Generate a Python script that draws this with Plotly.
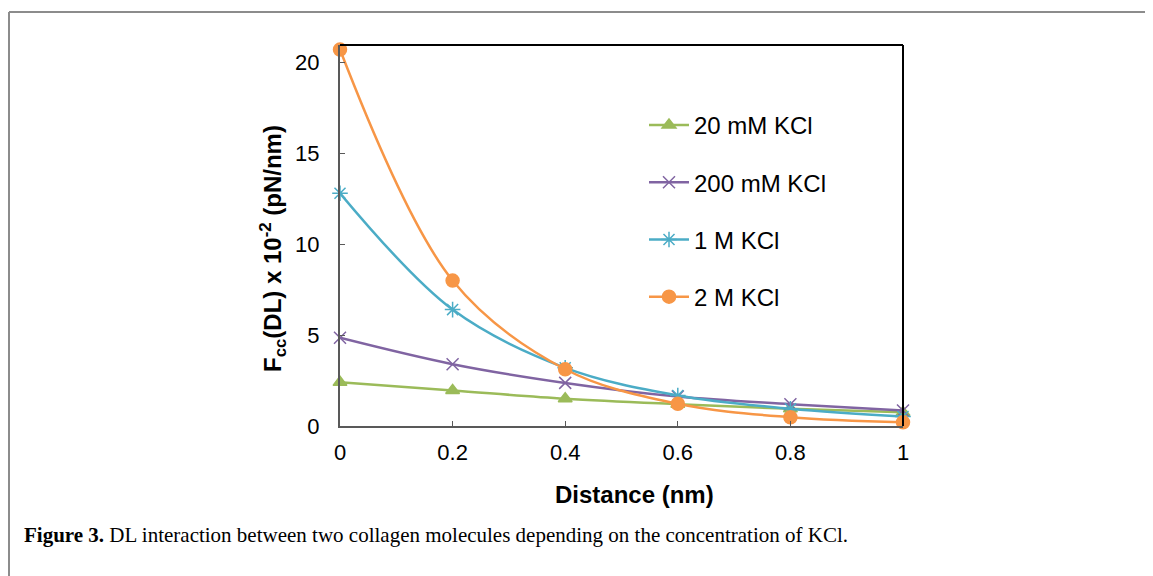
import plotly.graph_objects as go

distance = [0, 0.2, 0.4, 0.6, 0.8, 1.0]
kcl_20mM = [2.4, 1.95, 1.5, 1.2, 0.95, 0.75]
kcl_200mM = [4.85, 3.4, 2.37, 1.62, 1.2, 0.85]
kcl_1M = [12.8, 6.4, 3.2, 1.68, 0.95, 0.52]
kcl_2M = [20.7, 8.0, 3.12, 1.22, 0.48, 0.2]

series = [
    ("20 mM KCl", kcl_20mM, "#9BBB59", "triangle-up", 12),
    ("200 mM KCl", kcl_200mM, "#8064A2", "x-thin-open", 12),
    ("1 M KCl", kcl_1M, "#4BACC6", "asterisk-open", 13),
    ("2 M KCl", kcl_2M, "#F79646", "circle", 13),
]

OFF = 8  # default page body margin
W, H = 1153 - OFF, 576 - OFF
L, R, T, B = 340 - OFF, 903 - OFF, 45 - OFF, 426 - OFF

fig = go.Figure()
for i, (name, vals, col, sym, sz) in enumerate(series):
    fig.add_trace(go.Scatter(
        x=distance, y=vals, name=name, mode="lines+markers",
        line=dict(color=col, width=2.5, shape="spline", smoothing=1.0),
        marker=dict(symbol=sym, size=sz, color=col, line=dict(color=col, width=1.5)),
        legendgroup=f"g{i}", cliponaxis=False,
    ))

def px_x(p):
    return (p - OFF - L) / (R - L)

def px_y(p):
    return (B - (p - OFF)) / (B - T)

shapes = [
    dict(type="line", xref="paper", yref="paper", x0=px_x(9), x1=px_x(1170), y0=px_y(12), y1=px_y(12),
         line=dict(color="#8c8c8c", width=2)),
    dict(type="line", xref="paper", yref="paper", x0=px_x(9), x1=px_x(9), y0=px_y(12), y1=px_y(600),
         line=dict(color="#8c8c8c", width=2)),
    dict(type="line", xref="paper", yref="paper", x0=0, x1=1, y0=1, y1=1, line=dict(color="#000000", width=2)),
    dict(type="line", xref="paper", yref="paper", x0=1, x1=1, y0=0, y1=1, line=dict(color="#000000", width=2)),
]

fig.update_layout(
    width=W, height=H,
    margin=dict(l=L, r=W - R, t=T, b=H - B),
    paper_bgcolor="white", plot_bgcolor="white",
    font=dict(family="Arial, Liberation Sans, sans-serif", color="#000000", size=22),
    showlegend=True,
    legend=dict(x=px_x(644), y=px_y(103), xanchor="left", yanchor="top",
                font=dict(size=24, color="#000000"), bgcolor="rgba(0,0,0,0)",
                tracegroupgap=23, itemwidth=40),
    shapes=shapes,
    xaxis=dict(range=[0, 1], tickvals=[0, 0.2, 0.4, 0.6, 0.8, 1], ticktext=["0", "0.2", "0.4", "0.6", "0.8", "1"],
               showgrid=False, zeroline=False, showline=True, linecolor="#595959", linewidth=2,
               ticks="inside", ticklen=5, tickcolor="#595959", tickwidth=1,
               ticklabelstandoff=6,
               tickfont=dict(size=22)),
    yaxis=dict(range=[0, 20.95], tickvals=[0, 5, 10, 15, 20],
               showgrid=False, zeroline=False, showline=True, linecolor="#595959", linewidth=2,
               ticks="inside", ticklen=5, tickcolor="#595959", tickwidth=1,
               ticklabelstandoff=14,
               tickfont=dict(size=22)),
    annotations=[
        dict(text="<b>Distance (nm)</b>", xref="paper", yref="paper", x=px_x(634), y=px_y(494),
             xanchor="center", yanchor="middle", showarrow=False, font=dict(size=24, color="#000000")),
        dict(text="<b>F<sub>cc</sub>(DL) x 10<sup>-2</sup> (pN/nm)</b>", xref="paper", yref="paper",
             x=px_x(273), y=px_y(249), xanchor="center", yanchor="middle", textangle=-90,
             showarrow=False, font=dict(size=24, color="#000000")),
        dict(text="<b>Figure 3.</b> DL interaction between two collagen molecules depending on the concentration of KCl.",
             xref="paper", yref="paper", x=px_x(22), y=px_y(535), xanchor="left", yanchor="middle",
             showarrow=False, font=dict(family="Liberation Serif, serif", size=21, color="#000000")),
    ],
)

fig.write_html("out.html")
